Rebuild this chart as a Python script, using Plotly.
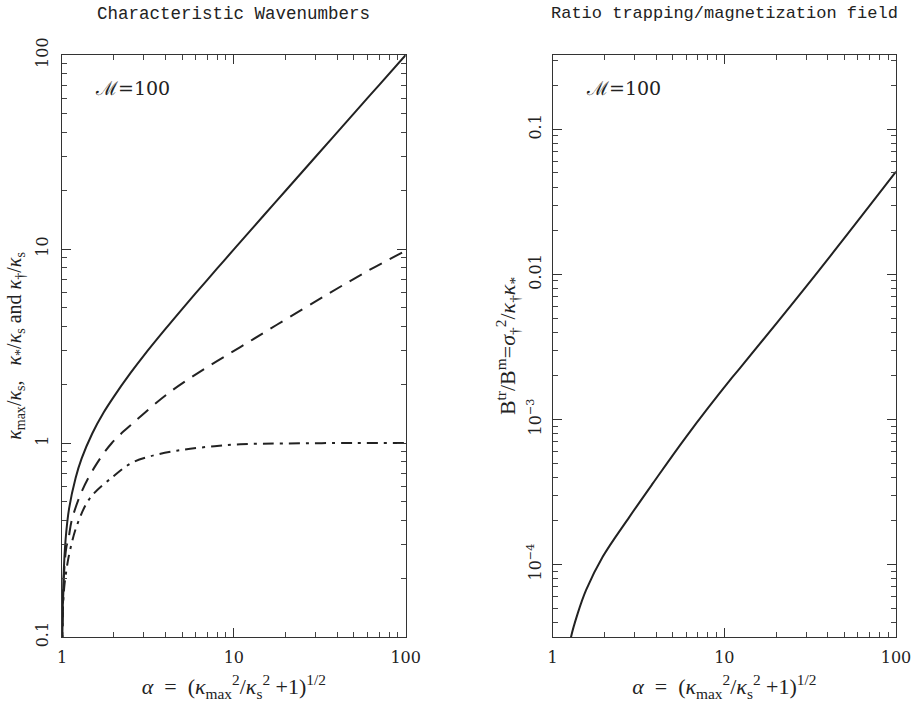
import plotly.graph_objects as go
from plotly.subplots import make_subplots

# ---- data ----
alpha_solid = [1.0, 1.005, 1.02, 1.05, 1.1, 1.2, 1.3, 1.5, 1.75, 2.0, 2.5, 3.0, 4.0, 5.0, 6.0, 8.0,
               10.0, 15.0, 20.0, 30.0, 50.0, 70.0, 100.0]
kmax = [0.05, 0.1, 0.2, 0.32, 0.46, 0.66, 0.83, 1.12, 1.44, 1.73, 2.29, 2.83, 3.87, 4.9, 5.92, 7.94,
        9.95, 14.97, 19.97, 29.98, 50.0, 70.0, 100.0]

alpha_dash = [1.0, 1.01, 1.03, 1.06, 1.09, 1.14, 1.3, 1.56, 1.95, 2.6, 4.07, 6.64, 10.9, 17.8, 34.7, 60.0, 100.0]
kstar = [0.05, 0.13, 0.22, 0.29, 0.32, 0.40, 0.56, 0.76, 1.0, 1.27, 1.78, 2.39, 3.12, 4.07, 5.81, 7.7, 9.8]

alpha_dd = [1.0, 1.01, 1.03, 1.06, 1.10, 1.22, 1.455, 1.99, 2.54, 3.25, 4.65, 7.0, 10.9, 20.0, 50.0, 100.0]
kdag = [0.05, 0.13, 0.18, 0.22, 0.266, 0.375, 0.52, 0.673, 0.789, 0.853, 0.913, 0.955, 0.985, 0.995, 1.0, 1.0]

alpha_ratio = [1.25, 1.279, 1.399, 1.564, 1.956, 2.80, 3.83, 5.99, 11.2, 12.3, 34.5, 100.0]
ratio = [2.6e-5, 3.16e-5, 4.6e-5, 6.65e-5, 1.13e-4, 2.13e-4, 3.62e-4, 7.59e-4, 1.97e-3, 2.25e-3, 1.016e-2, 5.1e-2]

x_ticks = [1, 10, 100]
x_ticktext = ["1", "10", "100"]
x_minor = [2, 3, 4, 5, 6, 7, 8, 9, 20, 30, 40, 50, 60, 70, 80, 90]
y1_ticks = [0.1, 1, 10, 100]
y1_ticktext = ["0.1", "1", "10", "100"]
y1_minor = [0.2, 0.3, 0.4, 0.5, 0.6, 0.7, 0.8, 0.9, 2, 3, 4, 5, 6, 7, 8, 9,
            20, 30, 40, 50, 60, 70, 80, 90]
y2_ticks = [1e-4, 1e-3, 1e-2, 1e-1]
y2_ticktext = ["10<sup>\u22124</sup>", "10<sup>\u22123</sup>", "0.01", "0.1"]
y2_minor = [4e-5, 5e-5, 6e-5, 7e-5, 8e-5, 9e-5, 2e-4, 3e-4, 4e-4, 5e-4, 6e-4, 7e-4, 8e-4, 9e-4,
            2e-3, 3e-3, 4e-3, 5e-3, 6e-3, 7e-3, 8e-3, 9e-3, 0.02, 0.03, 0.04, 0.05, 0.06, 0.07,
            0.08, 0.09, 0.2, 0.3]

serif = "DejaVu Serif"
math = "Liberation Serif"
mono = "Liberation Mono"
ink = "#222222"

fig = make_subplots(rows=1, cols=2)

fig.add_trace(go.Scatter(x=alpha_solid, y=kmax, mode="lines", line_shape="spline",
                         line=dict(color=ink, width=2), showlegend=False), row=1, col=1)
fig.add_trace(go.Scatter(x=alpha_dash, y=kstar, mode="lines", line_shape="spline",
                         line=dict(color=ink, width=2, dash="14px,9px"), showlegend=False), row=1, col=1)
fig.add_trace(go.Scatter(x=alpha_dd, y=kdag, mode="lines", line_shape="spline",
                         line=dict(color=ink, width=2, dash="11px,6px,3px,6px"), showlegend=False), row=1, col=1)
fig.add_trace(go.Scatter(x=alpha_ratio, y=ratio, mode="lines", line_shape="spline",
                         line=dict(color=ink, width=2), showlegend=False), row=1, col=2)

W, H = 912, 709


def px(x):
    return x / W


def py(y):
    return 1 - y / H


xd1 = [px(62), px(405.7)]
xd2 = [px(552.7), px(896)]
yd = [py(637), py(55)]

common_axis = dict(
    type="log", showgrid=False, zeroline=False, showline=True, linecolor="#333333", linewidth=1.3,
    mirror="allticks", ticks="inside", ticklen=9, tickwidth=1.3, tickcolor="#333333", automargin=False,
    tickfont=dict(family=serif, size=16, color=ink),
)

xtitle = ("<i>\u03b1</i>  =  (<i>\u03ba</i><sub>max</sub><sup>2</sup>/<i>\u03ba</i><sub>s</sub><sup>2</sup>"
          " +1)<sup>1/2</sup>")

fig.update_xaxes(**common_axis)
fig.update_yaxes(**common_axis)


def minor(vals):
    return dict(tickmode="array", tickvals=vals, ticks="inside", ticklen=5, tickwidth=1.1,
                tickcolor="#444444", showgrid=False)


for c, dom in ((1, xd1), (2, xd2)):
    fig.update_xaxes(row=1, col=c, domain=dom, range=[0, 2], tickmode="array", tickvals=x_ticks,
                     ticktext=x_ticktext, minor=minor(x_minor), ticklabelstandoff=6,
                     title=dict(text=xtitle, font=dict(family=math, size=22, color=ink), standoff=12))

fig.update_yaxes(row=1, col=1, domain=yd, range=[-1, 2], tickmode="array", tickvals=y1_ticks,
                 ticktext=y1_ticktext, minor=minor(y1_minor),
                 tickangle=-90, ticklabelstandoff=6,
                 title=dict(text="<i>\u03ba</i><sub>max</sub>/<i>\u03ba</i><sub>s</sub>,   "
                                 "<i>\u03ba</i><sub>*</sub>/<i>\u03ba</i><sub>s</sub> and "
                                 "<i>\u03ba</i><sub>\u2020</sub>/<i>\u03ba</i><sub>s</sub>",
                            font=dict(family=math, size=20, color=ink), standoff=6))
fig.update_yaxes(row=1, col=2, domain=yd, range=[-4.5, -0.488], tickmode="array", tickvals=y2_ticks,
                 ticktext=y2_ticktext, minor=minor(y2_minor),
                 tickangle=-90, ticklabelstandoff=4,
                 title=dict(text="B<sup>tr</sup>/B<sup>m</sup>=<i>\u03c3</i><sub>\u2020</sub><sup>2</sup>/"
                                 "<i>\u03ba</i><sub>\u2020</sub><i>\u03ba</i><sub>*</sub>",
                            font=dict(family=math, size=22, color=ink), standoff=2))

annotations = [
    dict(text="Characteristic Wavenumbers", x=(xd1[0] + xd1[1]) / 2, y=py(14), xref="paper", yref="paper",
         xanchor="center", yanchor="middle", showarrow=False, font=dict(family=mono, size=17.5, color=ink)),
    dict(text="Ratio trapping/magnetization field", x=(xd2[0] + xd2[1]) / 2, y=py(14), xref="paper",
         yref="paper", xanchor="center", yanchor="middle", showarrow=False,
         font=dict(family=mono, size=17, color=ink)),
    dict(text="\u2133=100", x=px(93), y=py(88), xref="paper", yref="paper",
         xanchor="left", yanchor="middle", showarrow=False, font=dict(family=serif, size=19, color=ink)),
    dict(text="\u2133=100", x=px(584), y=py(88), xref="paper", yref="paper",
         xanchor="left", yanchor="middle", showarrow=False, font=dict(family=serif, size=19, color=ink)),
]

fig.update_layout(width=W, height=H, margin=dict(l=0, r=0, t=0, b=0),
                  paper_bgcolor="white", plot_bgcolor="white", annotations=annotations)

fig.write_html("out.html", config={"displayModeBar": False},
               post_script="document.body.style.margin='0';document.body.style.overflow='hidden';")
